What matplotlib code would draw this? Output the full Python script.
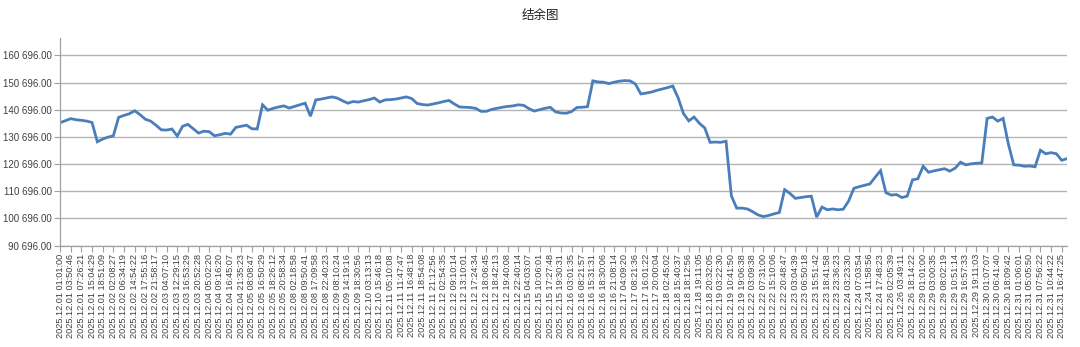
import matplotlib
matplotlib.use("Agg")
import matplotlib.pyplot as plt
from matplotlib.ticker import FuncFormatter

plt.rcParams['font.family'] = ['Liberation Sans', 'Noto Sans CJK SC', 'DejaVu Sans']

# balance readings (two per labelled timestamp)
balance = [
    135900, 136650, 137400, 137000, 136800, 136500, 136000, 128900, 129900, 130600,
    131100, 137900, 138600, 139200, 140300, 138900, 137200, 136500, 135000, 133300,
    133200, 133600, 131000, 134600, 135300, 133700, 132100, 132800, 132600, 131100,
    131500, 132000, 131700, 134200, 134600, 135000, 133700, 133600, 142500, 140500,
    141200, 141700, 142100, 141300, 141900, 142500, 143100, 138300, 144300, 144600,
    145000, 145400, 145000, 144000, 143100, 143700, 143500, 144000, 144400, 145000,
    143500, 144300, 144400, 144600, 145000, 145400, 144800, 143000, 142600, 142400,
    142800, 143200, 143700, 144100, 142800, 141700, 141600, 141500, 141200, 140100,
    140100, 140800, 141200, 141600, 141900, 142100, 142500, 142300, 141100, 140200,
    140700, 141200, 141600, 139900, 139500, 139400, 140000, 141500, 141600, 141800,
    151300, 150900, 150800, 150300, 150800, 151200, 151400, 151300, 150100, 146500,
    146800, 147200, 147800, 148300, 148800, 149400, 145100, 139300, 136600, 138000,
    135700, 134000, 128700, 128800, 128700, 129100, 109000, 104500, 104500, 104200,
    103200, 102000, 101400, 101800, 102400, 102900, 111300, 109900, 108100, 108400,
    108700, 108900, 101200, 104900, 103900, 104200, 103900, 104100, 107100, 111800,
    112400, 112900, 113400, 115900, 118300, 110200, 109300, 109500, 108400, 108900,
    114900, 115300, 119900, 117700, 118200, 118600, 119000, 118100, 119200, 121400,
    120400, 120800, 121000, 121100, 137500, 138000, 136500, 137500, 128000, 120400,
    120300, 119900, 120000, 119700, 125800, 124500, 124900, 124500, 122100, 122700,
]

time_labels = [
    "2025.12.01 01:01:00", "2025.12.01 03:50:46", "2025.12.01 07:26:21", "2025.12.01 15:04:29",
    "2025.12.01 18:51:09", "2025.12.02 02:08:27", "2025.12.02 06:34:19", "2025.12.02 14:54:22",
    "2025.12.02 17:55:16", "2025.12.02 21:58:17", "2025.12.03 04:07:10", "2025.12.03 12:29:15",
    "2025.12.03 16:53:29", "2025.12.03 20:52:28", "2025.12.04 05:02:20", "2025.12.04 09:16:20",
    "2025.12.04 16:45:07", "2025.12.04 21:35:23", "2025.12.05 08:08:47", "2025.12.05 16:50:29",
    "2025.12.05 18:26:12", "2025.12.05 20:58:34", "2025.12.08 02:18:58", "2025.12.08 09:50:41",
    "2025.12.08 17:09:58", "2025.12.08 22:40:23", "2025.12.09 08:10:24", "2025.12.09 14:19:16",
    "2025.12.09 18:30:56", "2025.12.10 03:13:13", "2025.12.10 15:46:18", "2025.12.11 05:10:08",
    "2025.12.11 11:47:47", "2025.12.11 16:48:18", "2025.12.11 18:54:08", "2025.12.11 21:12:56",
    "2025.12.12 02:54:35", "2025.12.12 09:10:14", "2025.12.12 13:10:01", "2025.12.12 17:24:34",
    "2025.12.12 18:06:45", "2025.12.12 18:42:13", "2025.12.12 19:40:08", "2025.12.12 22:40:14",
    "2025.12.15 04:03:07", "2025.12.15 10:06:01", "2025.12.15 17:27:48", "2025.12.15 19:30:31",
    "2025.12.16 03:01:35", "2025.12.16 08:21:57", "2025.12.16 15:31:31", "2025.12.16 18:30:06",
    "2025.12.16 21:08:14", "2025.12.17 04:09:20", "2025.12.17 08:21:36", "2025.12.17 16:01:22",
    "2025.12.17 20:00:04", "2025.12.18 02:45:02", "2025.12.18 15:40:37", "2025.12.18 18:12:56",
    "2025.12.18 19:11:05", "2025.12.18 20:32:05", "2025.12.19 03:22:30", "2025.12.19 10:41:50",
    "2025.12.19 19:06:38", "2025.12.22 03:09:38", "2025.12.22 07:31:00", "2025.12.22 15:10:06",
    "2025.12.22 20:48:47", "2025.12.23 03:04:39", "2025.12.23 06:50:18", "2025.12.23 15:51:42",
    "2025.12.23 18:41:58", "2025.12.23 23:36:23", "2025.12.24 03:23:30", "2025.12.24 07:03:54",
    "2025.12.24 11:58:56", "2025.12.24 17:48:23", "2025.12.26 02:05:39", "2025.12.26 03:49:11",
    "2025.12.26 18:14:22", "2025.12.29 01:01:00", "2025.12.29 03:00:35", "2025.12.29 08:02:19",
    "2025.12.29 10:51:14", "2025.12.29 16:57:33", "2025.12.29 19:11:03", "2025.12.30 01:07:07",
    "2025.12.30 06:41:40", "2025.12.30 18:09:42", "2025.12.31 01:06:01", "2025.12.31 05:05:50",
    "2025.12.31 07:56:22", "2025.12.31 10:44:22", "2025.12.31 16:47:25",
]

y_ticks = [90696, 100696, 110696, 120696, 130696, 140696, 150696, 160696]
label_step = 2

fig = plt.figure(figsize=(10.8, 3.47), dpi=100)
ax = fig.add_axes([0.0556, 0.292, 0.9324, 0.598])

x = list(range(len(balance)))
ax.plot(x, balance, color='#4a7ebb', linewidth=2.0, solid_joinstyle='miter')

ax.set_xlim(0, len(balance) - 1)
ax.set_ylim(y_ticks[0], 167000)
ax.set_yticks(y_ticks)
ax.yaxis.set_major_formatter(FuncFormatter(lambda v, p: f"{v:,.2f}".replace(",", " ")))
ax.set_xticks(x[::label_step][:len(time_labels)])
ax.set_xticklabels(time_labels, rotation=90, fontsize=6.6, color='#404040')
ax.tick_params(axis='y', labelsize=7, colors='#404040', length=4, color='#a0a0a0', width=0.8, pad=2)
ax.tick_params(axis='x', length=4, color='#a0a0a0', width=0.8, pad=2)

ax.grid(axis='y', color='#b4b4b4', linewidth=1.0)
ax.set_axisbelow(True)
for side in ['top', 'right']:
    ax.spines[side].set_visible(False)
for side in ['left', 'bottom']:
    ax.spines[side].set_color('#a0a0a0')
    ax.spines[side].set_linewidth(0.9)

fig.text(0.5, 0.955, "结余图", ha='center', va='center', fontsize=9, color='#202020')

fig.savefig("out.png", dpi=100)
